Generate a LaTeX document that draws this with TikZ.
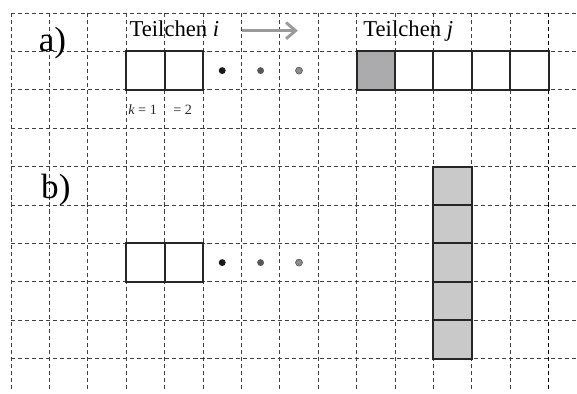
\documentclass[tikz,border=0pt]{standalone}
\usepackage{fontspec}
\setmainfont{Liberation Serif}
\usetikzlibrary{arrows.meta}
\definecolor{gridc}{HTML}{404040}
\definecolor{darkfill}{HTML}{ABABAD}
\definecolor{lightfill}{HTML}{C9C9C9}
\definecolor{arrowc}{HTML}{9A9A9A}
\tikzset{
  gridline/.style={gridc, line width=0.7pt, dash pattern=on 3pt off 2.2pt},
  cell/.style={draw=black!85, line width=1.6pt, minimum size=1cm, inner sep=0pt, outer sep=0pt},
  dotnode/.style={circle, inner sep=0pt, minimum size=0.18cm},
  bigtxt/.style={inner sep=0pt, anchor=base west, font=\fontsize{26}{30}\selectfont},
  midtxt/.style={inner sep=0pt, anchor=base west, font=\fontsize{16.8}{20}\selectfont},
  smalltxt/.style={inner sep=0pt, anchor=base west, font=\fontsize{10.5}{12}\selectfont, text=black!85},
}
\begin{document}
\begin{tikzpicture}[x=1cm,y=1cm]
\useasboundingbox (-0.2865,0.3385) rectangle (14.740,-9.922);
% grid
\foreach \i in {0,...,9} \draw[gridline] (0,-\i) -- (14.74,-\i);
\foreach \j in {0,...,13} \draw[gridline] (\j,0) -- (\j,-9.82);
\draw[gridline, black, line width=1.1pt] (14,0) -- (14,-9.82);
% labels
\node[bigtxt] (la) at (0.72,-0.99) {a)};
\node[bigtxt] (lb) at (0.78,-4.82) {b)};
\node[midtxt] (ti) at (3.08,-0.62) {Teilchen {\itshape i}};
\node[midtxt] (tj) at (9.17,-0.62) {Teilchen {\itshape j}};
\coordinate (arS) at (6.02,-0.46);
\coordinate (arE) at (7.47,-0.46);
\draw[arrowc, line width=2.2pt, -{Straight Barb[length=7pt,width=12pt,line width=2.2pt]}] (arS) -- (arE);
% a) particle i
\node[cell] (ai1) at (3.5,-1.5) {};
\node[cell] (ai2) at (4.5,-1.5) {};
\node[dotnode, fill=black!90] (ad1) at (5.5,-1.5) {};
\node[dotnode, fill=black!65] (ad2) at (6.5,-1.5) {};
\node[dotnode, fill=black!45, draw=black!65, line width=0.5pt] (ad3) at (7.5,-1.5) {};
\node[smalltxt] (k1) at (3.05,-2.65) {{\itshape k} = 1};
\node[smalltxt] (k2) at (4.22,-2.65) {= 2};
% a) particle j
\node[cell, fill=darkfill] (aj1) at (9.5,-1.5) {};
\node[cell] (aj2) at (10.5,-1.5) {};
\node[cell] (aj3) at (11.5,-1.5) {};
\node[cell] (aj4) at (12.5,-1.5) {};
\node[cell] (aj5) at (13.5,-1.5) {};
% b) particle i
\node[cell] (bi1) at (3.5,-6.5) {};
\node[cell] (bi2) at (4.5,-6.5) {};
\node[dotnode, fill=black!90] (bd1) at (5.5,-6.5) {};
\node[dotnode, fill=black!65] (bd2) at (6.5,-6.5) {};
\node[dotnode, fill=black!45, draw=black!65, line width=0.5pt] (bd3) at (7.5,-6.5) {};
% b) particle j column
\foreach \r in {1,...,5} \node[cell, fill=lightfill] (bj\r) at (11.5,-3.5-\r) {};
\end{tikzpicture}
\end{document}
